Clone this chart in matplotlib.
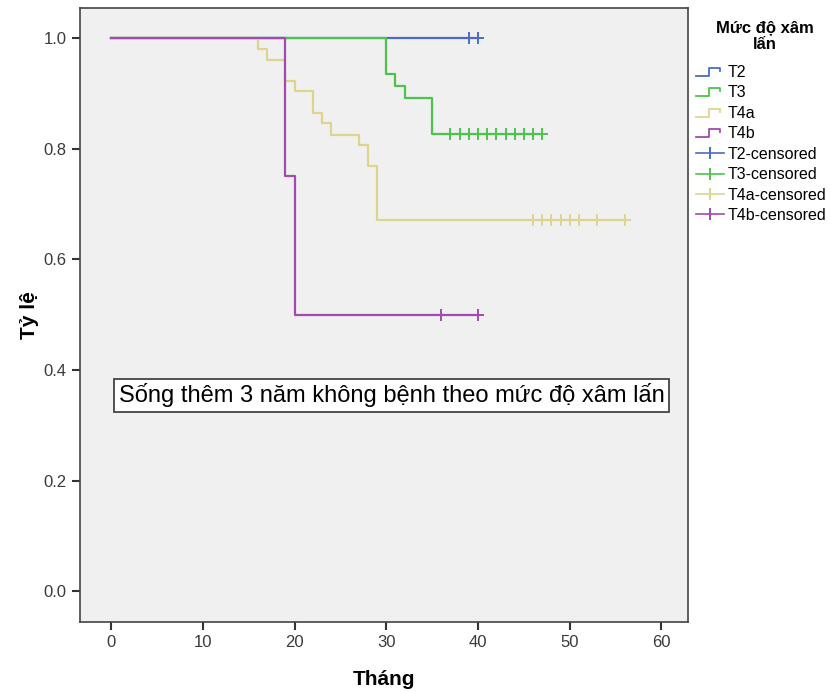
import matplotlib
matplotlib.use("Agg")
import matplotlib.pyplot as plt
from matplotlib.lines import Line2D
from matplotlib.legend_handler import HandlerBase

plt.rcParams["font.family"] = ["Liberation Sans", "DejaVu Sans"]

# Kaplan-Meier steps: (time, survival) after each event
groups = ["T2", "T3", "T4a", "T4b"]
colors = ["#4a6cc8", "#4cc44c", "#ddd58e", "#a24aae"]

t2_times = [0]
t2_surv = [1.0]
t2_end = 40
t2_cens = [39, 40]

t3_times = [0, 30, 31, 32, 35]
t3_surv = [1.0, 0.935, 0.913, 0.891, 0.826]
t3_end = 47
t3_cens = [37, 38, 39, 40, 41, 42, 43, 44, 45, 46, 47]

t4a_times = [0, 16, 17, 19, 20, 22, 23, 24, 27, 28, 29]
t4a_surv = [1.0, 0.981, 0.960, 0.923, 0.904, 0.864, 0.846, 0.825, 0.807, 0.769, 0.672]
t4a_end = 56
t4a_cens = [46, 47, 48, 49, 50, 51, 53, 56]

t4b_times = [0, 19, 20]
t4b_surv = [1.0, 0.75, 0.5]
t4b_end = 40
t4b_cens = [36, 40]

series = [
    (t2_times, t2_surv, t2_end, t2_cens),
    (t3_times, t3_surv, t3_end, t3_cens),
    (t4a_times, t4a_surv, t4a_end, t4a_cens),
    (t4b_times, t4b_surv, t4b_end, t4b_cens),
]


def surv_at(times, surv, t):
    val = surv[0]
    for ti, si in zip(times, surv):
        if ti <= t:
            val = si
    return val


class StepHandler(HandlerBase):
    # small step-shaped legend key, like SPSS survival plots
    def create_artists(self, legend, orig, xdescent, ydescent, width, height, fontsize, trans):
        x = [-xdescent, -xdescent + width * 0.45, -xdescent + width * 0.45,
             -xdescent + width * 0.85, -xdescent + width * 0.85]
        y0 = -ydescent + height * 0.1
        y1 = -ydescent + height * 0.8
        y = [y0, y0, y1, y1, y1 - height * 0.25]
        ln = Line2D(x, y, color=orig.get_color(), lw=1.3, transform=trans)
        return [ln]


class CensHandler(HandlerBase):
    # horizontal line with a tick in the middle
    def create_artists(self, legend, orig, xdescent, ydescent, width, height, fontsize, trans):
        ym = -ydescent + height / 2
        xm = -xdescent + width / 2
        h = Line2D([-xdescent, -xdescent + width], [ym, ym], color=orig.get_color(),
                   lw=1.2, transform=trans)
        v = Line2D([xm, xm], [ym - height * 0.45, ym + height * 0.45],
                   color=orig.get_color(), lw=1.4, transform=trans)
        return [h, v]


fig = plt.figure(figsize=(8.32, 6.92), dpi=100)
ax = fig.add_axes([0.096, 0.101, 0.731, 0.887])
ax.set_facecolor("#f0f0f0")

line_handles = []
cens_handles = []
for (times, surv, end, cens), c, g in zip(series, colors, groups):
    xs = list(times) + [end]
    ys = list(surv) + [surv[-1]]
    ln, = ax.step(xs, ys, where="post", color=c, lw=1.6, label=g)
    line_handles.append(ln)
    cy = [surv_at(times, surv, t) for t in cens]
    mk, = ax.plot(cens, cy, ls="none", marker="+", ms=9, mew=1.4, color=c,
                  label=g + "-censored")
    cens_handles.append(mk)

ax.set_xlim(-3.4, 62.9)
ax.set_ylim(-0.056, 1.054)
ax.set_xticks([0, 10, 20, 30, 40, 50, 60])
ax.set_yticks([0.0, 0.2, 0.4, 0.6, 0.8, 1.0])
ax.set_yticklabels(["0.0", "0.2", "0.4", "0.6", "0.8", "1.0"])
ax.tick_params(direction="out", length=6, width=1.5, colors="#333333",
               labelsize=12, labelcolor="#3a3a3a")
for s in ax.spines.values():
    s.set_color("#444444")
    s.set_linewidth(1.2)

ax.set_xlabel("Tháng", fontsize=15, fontweight="bold", labelpad=14)
ax.set_ylabel("Tỷ lệ", fontsize=15, fontweight="bold", labelpad=3)

ax.text(30.6, 0.354, "Sống thêm 3 năm không bệnh theo mức độ xâm lấn",
        ha="center", va="center", fontsize=17,
        bbox=dict(boxstyle="square,pad=0.2", facecolor="white",
                  edgecolor="#444444", linewidth=1.3))

fig.text(765 / 832, 1 - 36 / 692, "Mức độ xâm\nlấn", ha="center", va="center",
         fontsize=12, fontweight="bold", multialignment="center", linespacing=1.1)

handler_map = {h: StepHandler() for h in line_handles}
handler_map.update({h: CensHandler() for h in cens_handles})
leg = fig.legend(line_handles + cens_handles,
                 [h.get_label() for h in line_handles + cens_handles],
                 loc="upper left", bbox_to_anchor=(696 / 832, 1 - 65 / 692),
                 frameon=False, fontsize=11.5, handlelength=1.75,
                 handletextpad=0.2, labelspacing=0.34, borderaxespad=0,
                 borderpad=0, handler_map=handler_map)

fig.savefig("out.png", dpi=100)
